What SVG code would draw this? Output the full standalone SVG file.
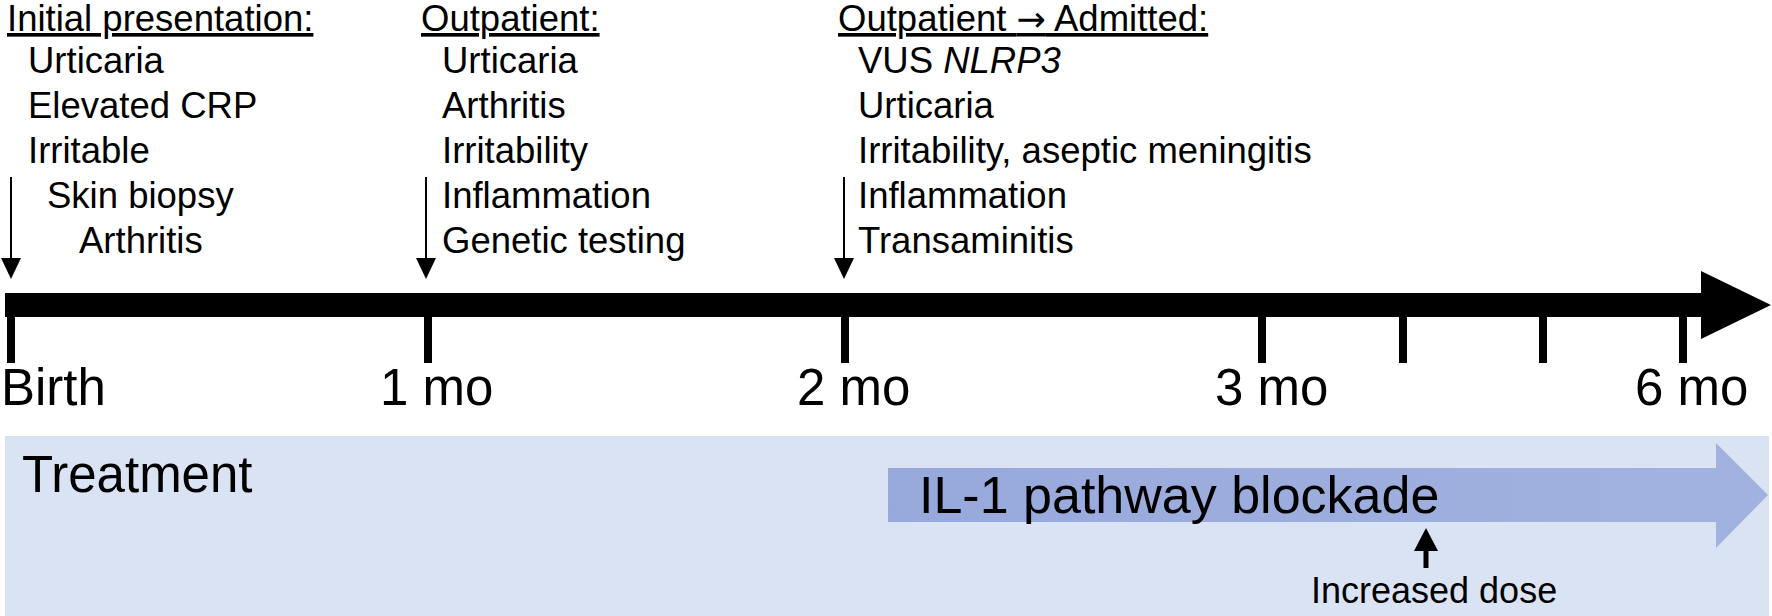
<svg xmlns="http://www.w3.org/2000/svg" width="1772" height="616" viewBox="0 0 1772 616">
<style>
text{font-family:"Liberation Sans",Arial,Helvetica,sans-serif;fill:#000}
.hd{font-size:36.5px;text-decoration:underline}
.arr{font-family:"DejaVu Sans",sans-serif;font-size:35px}
.it{font-size:36.5px}
.tk{font-size:51px}
.ax{fill:#000}
.dn{stroke:#000;stroke-width:2;fill:none}
.up{stroke:#000;stroke-width:5;fill:none}
</style>
<defs>
<linearGradient id="blueGrad" x1="0" y1="0" x2="1" y2="0">
<stop offset="0" stop-color="#97A9DB"/>
<stop offset="1" stop-color="#A2B2E0"/>
</linearGradient>
</defs>
<rect width="1772" height="616" fill="#fff"/>

<g id="treatment-box">
<rect x="5" y="436" width="1764" height="180" fill="#DAE3F3"/>
<text x="22" y="492" style="font-size:51px">Treatment</text>
</g>

<g id="il1-arrow">
<path d="M888,468 H1716 V443 L1768,495 L1716,548 V522 H888 Z" fill="url(#blueGrad)"/>
<text x="919" y="513" style="font-size:52px">IL-1 pathway blockade</text>
</g>

<g id="increased-dose">
<text x="1311" y="603" style="font-size:36px">Increased dose</text>
</g>

<g id="timeline">
<path class="ax" d="M5,293 H1701 V271 L1771,305 L1701,339 V317 H5 Z"/>
<rect class="ax" x="7" y="310" width="8" height="53"/>
<rect class="ax" x="424" y="310" width="8" height="53"/>
<rect class="ax" x="841" y="310" width="8" height="53"/>
<rect class="ax" x="1258" y="310" width="8" height="53"/>
<rect class="ax" x="1399" y="310" width="8" height="53"/>
<rect class="ax" x="1539" y="310" width="8" height="53"/>
<rect class="ax" x="1679" y="310" width="8" height="53"/>
</g>

<g id="tick-labels">
<text class="tk" x="1" y="405">Birth</text>
<text class="tk" x="380" y="405">1 mo</text>
<text class="tk" x="797" y="405">2 mo</text>
<text class="tk" x="1215" y="405">3 mo</text>
<text class="tk" x="1635" y="405">6 mo</text>
</g>

<g id="initial-presentation">
<text class="hd" x="7" y="31">Initial presentation:</text>
<text class="it" x="28" y="73">Urticaria</text>
<text class="it" x="28" y="118">Elevated CRP</text>
<text class="it" x="28" y="163">Irritable</text>
<text class="it" x="47" y="208">Skin biopsy</text>
<text class="it" x="79" y="253">Arthritis</text>
</g>

<g id="outpatient">
<text class="hd" x="421" y="31">Outpatient:</text>
<text class="it" x="442" y="73">Urticaria</text>
<text class="it" x="442" y="118">Arthritis</text>
<text class="it" x="442" y="163">Irritability</text>
<text class="it" x="442" y="208">Inflammation</text>
<text class="it" x="442" y="253">Genetic testing</text>
</g>

<g id="outpatient-admitted">
<text class="hd" x="838" y="31">Outpatient <tspan class="arr">→</tspan> Admitted:</text>
<text class="it" x="858" y="73">VUS <tspan font-style="italic">NLRP3</tspan></text>
<text class="it" x="858" y="118">Urticaria</text>
<text class="it" x="858" y="163">Irritability, aseptic meningitis</text>
<text class="it" x="858" y="208">Inflammation</text>
<text class="it" x="858" y="253">Transaminitis</text>
</g>

<g id="connectors">
<line class="dn" x1="11" y1="177" x2="11" y2="260"/>
<polygon class="ax" points="1,258 21,258 11,279"/>
<line class="dn" x1="426" y1="177" x2="426" y2="260"/>
<polygon class="ax" points="416,258 436,258 426,279"/>
<line class="dn" x1="844" y1="177" x2="844" y2="260"/>
<polygon class="ax" points="834,258 854,258 844,279"/>
<line class="up" x1="1426" y1="568" x2="1426" y2="548"/>
<polygon class="ax" points="1414,551 1438,551 1426,528"/>
</g>
</svg>
